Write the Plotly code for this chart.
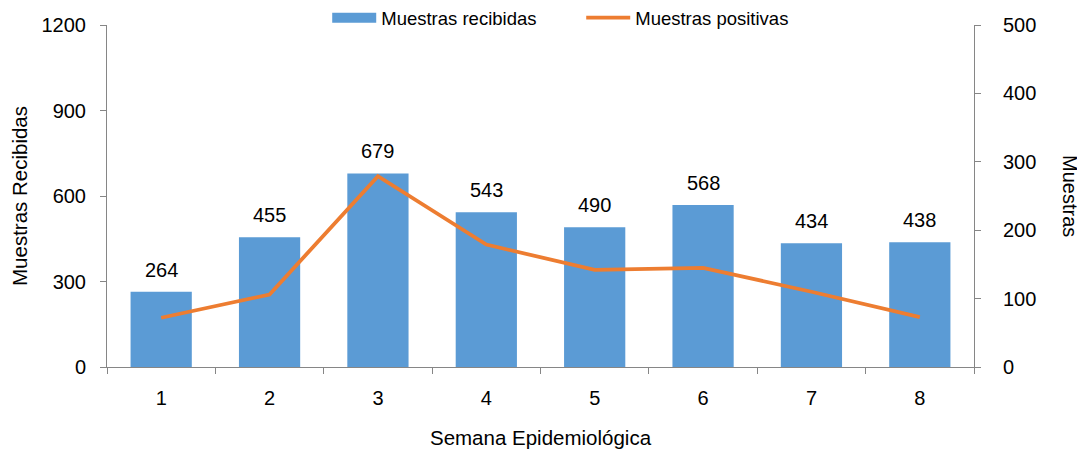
import plotly.graph_objects as go

semanas = ["1", "2", "3", "4", "5", "6", "7", "8"]
recibidas = [264, 455, 679, 543, 490, 568, 434, 438]
positivas = [72, 106, 279, 179, 142, 145, 110, 73]

FONT = "Liberation Sans, Arial, sans-serif"
BLUE = "#5B9BD5"
ORANGE = "#ED7D31"
AXIS = "#868686"

fig = go.Figure()
fig.add_trace(go.Bar(x=semanas, y=recibidas, name="Muestras recibidas",
                     marker=dict(color=BLUE, line=dict(width=0)), width=0.565,
                     yaxis="y", showlegend=False))
# legend proxy giving a wide rectangular swatch for the bars
fig.add_trace(go.Scatter(x=[None], y=[None], name="Muestras recibidas", mode="lines",
                         line=dict(color=BLUE, width=12), yaxis="y"))
fig.add_trace(go.Scatter(x=semanas, y=positivas, name="Muestras positivas",
                         mode="lines", line=dict(color=ORANGE, width=3.8),
                         yaxis="y2"))

for i, v in enumerate(recibidas):
    fig.add_annotation(x=i, y=v, text=str(v), showarrow=False, yanchor="bottom",
                       yshift=9, font=dict(size=20, color="#000", family=FONT),
                       xref="x", yref="y")

fig.add_annotation(text="Muestras", textangle=90, showarrow=False,
                   xref="paper", yref="paper", x=1.1107, y=0.5,
                   xanchor="center", yanchor="middle",
                   font=dict(size=20, color="#000", family=FONT))

fig.update_layout(
    width=1085, height=454,
    margin=dict(l=99, r=119, t=17, b=95, autoexpand=False),
    paper_bgcolor="white", plot_bgcolor="white",
    font=dict(family=FONT, size=20, color="#000"),
    showlegend=True,
    legend=dict(orientation="h", x=0.254, xanchor="left", y=1.02, yanchor="middle",
                font=dict(size=18.5, family=FONT), itemwidth=44, entrywidth=195,
                bgcolor="rgba(0,0,0,0)"),
    xaxis=dict(type="category", showline=True, linecolor=AXIS, linewidth=1,
               ticks="outside", tickson="boundaries", ticklen=6, tickcolor=AXIS,
               showgrid=False, tickfont=dict(size=20), ticklabelstandoff=13,
               range=[-0.5, 7.5],
               title=dict(text="Semana Epidemiológica", font=dict(size=20.5), standoff=22)),
    yaxis=dict(range=[0, 1200], tickvals=[0, 300, 600, 900, 1200], showline=True,
               linecolor=AXIS, linewidth=1, ticks="outside", ticklen=6, tickcolor=AXIS,
               showgrid=False, zeroline=False, tickfont=dict(size=20),
               ticklabelstandoff=10,
               title=dict(text="Muestras Recibidas", font=dict(size=20.5), standoff=10)),
    yaxis2=dict(range=[0, 500], tickvals=[0, 100, 200, 300, 400, 500], overlaying="y",
                side="right", showline=True, linecolor=AXIS, linewidth=1,
                ticks="outside", ticklen=6, tickcolor=AXIS, showgrid=False,
                zeroline=False, tickfont=dict(size=20), ticklabelstandoff=18),
)

fig.write_html("out.html")
